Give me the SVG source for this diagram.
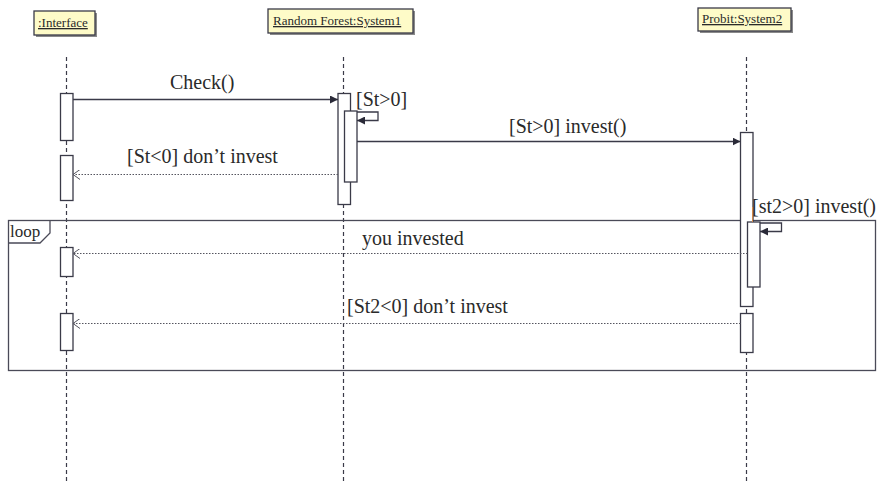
<svg xmlns="http://www.w3.org/2000/svg" width="879" height="484" viewBox="0 0 879 484">
  <style>
    .head { fill: #fefbc8; stroke: #3a3a48; stroke-width: 1.3; }
    .shadow { fill: #8a8a8a; }
    .htxt { font-family: "Liberation Serif", "Times New Roman", serif; font-size: 13px; fill: #2a2a2a; text-decoration: underline; }
    .lbl { font-family: "Liberation Serif", "Times New Roman", serif; font-size: 20px; fill: #2a2a2a; }
    .life { stroke: #3a3a48; stroke-width: 1.2; stroke-dasharray: 4 3; fill: none; }
    .act { fill: #ffffff; stroke: #3a3a48; stroke-width: 1.3; }
    .msg { stroke: #3a3a48; stroke-width: 1.3; fill: none; }
    .ret { stroke: #55555f; stroke-width: 1; stroke-dasharray: 1.5 1.5; fill: none; }
    .frame { stroke: #4a4a58; stroke-width: 1.3; fill: none; }
  </style>
  <defs>
    <marker id="solid" viewBox="0 0 8 8" refX="8" refY="4" markerWidth="8" markerHeight="8" markerUnits="userSpaceOnUse" orient="auto">
      <path d="M0,0 L8,4 L0,8 Z" fill="#2a2a38"/>
    </marker>
    <marker id="open" viewBox="0 0 8 10" refX="7.5" refY="5" markerWidth="8" markerHeight="10" markerUnits="userSpaceOnUse" orient="auto">
      <path d="M0.5,0 L7.5,5 L0.5,10" fill="none" stroke="#55555f" stroke-width="1"/>
    </marker>
  </defs>

  <rect width="879" height="484" fill="#ffffff"/>

  <!-- lifelines -->
  <g id="lifelines">
    <line class="life" x1="66.5" y1="57" x2="66.5" y2="484"/>
    <line class="life" x1="343.5" y1="57" x2="343.5" y2="484"/>
    <line class="life" x1="746.5" y1="57" x2="746.5" y2="484"/>
  </g>

  <!-- loop combined fragment -->
  <g id="loop">
    <rect class="frame" x="8.5" y="220.5" width="867" height="150"/>
    <path class="frame" d="M8.5,243 L40,243 L50,233 L50,220.5"/>
    <text class="lbl" x="10" y="237" style="font-size:17px">loop</text>
  </g>

  <!-- participants -->
  <g id="interface">
    <rect class="shadow" x="36" y="13" width="61" height="24"/>
    <rect class="head" x="34" y="11" width="61" height="24"/>
    <text class="htxt" x="38" y="27">:Interface</text>
    <rect class="act" x="60.5" y="93.5" width="12.5" height="47"/>
    <rect class="act" x="60.5" y="155.5" width="12.5" height="45"/>
    <rect class="act" x="60.5" y="247.5" width="12.5" height="29"/>
    <rect class="act" x="60.5" y="313.5" width="12.5" height="37"/>
  </g>

  <g id="system1">
    <rect class="shadow" x="270" y="11" width="145" height="24"/>
    <rect class="head" x="268" y="9" width="145" height="24"/>
    <text class="htxt" x="273" y="25">Random Forest:System1</text>
    <rect class="act" x="338" y="93.5" width="12.5" height="111"/>
    <rect class="act" x="344.5" y="111" width="12.5" height="71"/>
  </g>

  <g id="system2">
    <rect class="shadow" x="700" y="10" width="93" height="23"/>
    <rect class="head" x="698" y="8" width="93" height="23"/>
    <text class="htxt" x="702" y="23">Probit:System2</text>
    <rect class="act" x="740.5" y="132.5" width="12.5" height="174"/>
    <rect class="act" x="747.5" y="222" width="12.5" height="65"/>
    <rect class="act" x="740.5" y="313.5" width="12.5" height="39"/>
  </g>

  <!-- messages -->
  <g id="connectors">
    <line class="msg" x1="73" y1="99.5" x2="338" y2="99.5" marker-end="url(#solid)"/>
    <path class="msg" d="M357,112 L378,112 L378,120.5 L357,120.5" marker-end="url(#solid)"/>
    <line class="msg" x1="357" y1="141.5" x2="740.5" y2="141.5" marker-end="url(#solid)"/>
    <line class="ret" x1="338" y1="174.5" x2="73" y2="174.5" marker-end="url(#open)"/>
    <path class="msg" d="M760,223 L781.5,223 L781.5,231.5 L760,231.5" marker-end="url(#solid)"/>
    <line stroke="#d2894a" stroke-width="1" x1="752.5" y1="207" x2="752.5" y2="222"/>
    <line class="ret" x1="747.5" y1="253.5" x2="73" y2="253.5" marker-end="url(#open)"/>
    <line class="ret" x1="740.5" y1="323.5" x2="73" y2="323.5" marker-end="url(#open)"/>
  </g>

  <!-- message labels -->
  <g id="labels">
    <text class="lbl" x="170" y="89">Check()</text>
    <text class="lbl" x="356" y="106">[St&gt;0]</text>
    <text class="lbl" x="509" y="133">[St&gt;0] invest()</text>
    <text class="lbl" x="127" y="163">[St&lt;0] don’t invest</text>
    <text class="lbl" x="752" y="213">[st2&gt;0] invest()</text>
    <text class="lbl" x="362" y="245">you invested</text>
    <text class="lbl" x="347" y="313">[St2&lt;0] don’t invest</text>
  </g>
</svg>
